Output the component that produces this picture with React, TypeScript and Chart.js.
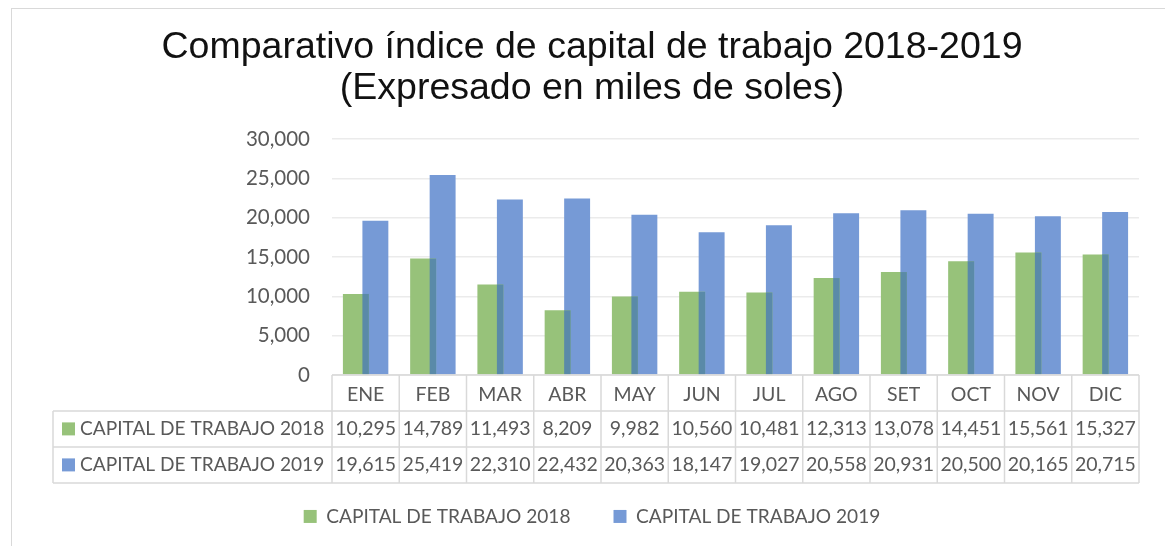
import React, { useEffect, useRef } from "react";
import { Chart, registerables } from "chart.js";

Chart.register(...registerables);

const months = ["ENE", "FEB", "MAR", "ABR", "MAY", "JUN", "JUL", "AGO", "SET", "OCT", "NOV", "DIC"];
const capital2018 = [10295, 14789, 11493, 8209, 9982, 10560, 10481, 12313, 13078, 14451, 15561, 15327];
const capital2019 = [19615, 25419, 22310, 22432, 20363, 18147, 19027, 20558, 20931, 20500, 20165, 20715];
const seriesNames = ["CAPITAL DE TRABAJO 2018", "CAPITAL DE TRABAJO 2019"];
const titleLines = ["Comparativo índice de capital de trabajo 2018-2019", "(Expresado en miles de soles)"];
const yMin = 0;
const yMax = 30000;
const yStep = 5000;

const GREEN = "#97c27a";
const BLUE = "#769ad6";
const OVERLAP = "#5a8aa8";
const TEXT = "#595959";
const LINE = "#d9d9d9";
const FONT = "Lato";

const fmt = (v: number) => v.toLocaleString("en-US");

const overlapPlugin = {
  id: "overlap",
  afterDatasetsDraw(chart: any) {
    const m0 = chart.getDatasetMeta(0);
    const m1 = chart.getDatasetMeta(1);
    const ctx = chart.ctx;
    ctx.save();
    ctx.fillStyle = OVERLAP;
    m0.data.forEach((b0: any, i: number) => {
      const b1 = m1.data[i];
      if (!b1) return;
      const l = Math.max(b0.x - b0.width / 2, b1.x - b1.width / 2);
      const r = Math.min(b0.x + b0.width / 2, b1.x + b1.width / 2);
      const t = Math.max(b0.y, b1.y);
      const base = Math.min(b0.base, b1.base);
      if (r > l && base > t) ctx.fillRect(l, t, r - l, base - t);
    });
    ctx.restore();
  },
};

const tablePlugin = {
  id: "dataTable",
  afterDraw(chart: any) {
    const ctx = chart.ctx;
    const area = chart.chartArea;
    const xs = chart.scales.x;
    const rowH = 36;
    const top = area.bottom;
    const labelLeft = 41;
    const n = months.length;
    const colW = area.width / n;
    ctx.save();
    ctx.strokeStyle = LINE;
    ctx.lineWidth = 1.5;
    ctx.beginPath();
    ctx.moveTo(area.left, top);
    ctx.lineTo(area.right, top);
    for (let r = 1; r <= 3; r++) {
      ctx.moveTo(labelLeft, top + r * rowH);
      ctx.lineTo(area.right, top + r * rowH);
    }
    for (let i = 0; i <= n; i++) {
      const x = area.left + i * colW;
      ctx.moveTo(x, top);
      ctx.lineTo(x, top + 3 * rowH);
    }
    ctx.moveTo(labelLeft, top + rowH);
    ctx.lineTo(labelLeft, top + 3 * rowH);
    ctx.stroke();

    const rows = [
      { name: seriesNames[0], color: GREEN, values: capital2018 },
      { name: seriesNames[1], color: BLUE, values: capital2019 },
    ];
    ctx.textBaseline = "middle";
    rows.forEach((row, r) => {
      const cy = top + rowH * (r + 1) + rowH / 2;
      ctx.fillStyle = row.color;
      ctx.fillRect(labelLeft + 9, cy - 6.5, 13, 13);
      ctx.fillStyle = TEXT;
      ctx.textAlign = "left";
      ctx.font = `19.1px ${FONT}`;
      ctx.fillText(row.name, labelLeft + 27, cy);
      ctx.textAlign = "center";
      ctx.font = `19.5px ${FONT}`;
      row.values.forEach((v, i) => {
        ctx.fillText(fmt(v), xs.getPixelForValue(i), cy);
      });
    });
    ctx.restore();
  },
};

export default function App() {
  const ref = useRef<HTMLCanvasElement>(null);

  useEffect(() => {
    if (!ref.current) return;
    const chart = new Chart(ref.current, {
      type: "bar",
      data: {
        labels: months,
        datasets: [
          {
            label: seriesNames[0],
            data: capital2018,
            backgroundColor: GREEN,
            categoryPercentage: 0.58,
            barPercentage: 1.33,
          },
          {
            label: seriesNames[1],
            data: capital2019,
            backgroundColor: BLUE,
            categoryPercentage: 0.58,
            barPercentage: 1.33,
          },
        ],
      },
      options: {
        animation: false,
        responsive: false,
        devicePixelRatio: 1,
        layout: { padding: { left: 33, right: 33, top: 0, bottom: 0 } },
        plugins: {
          title: {
            display: true,
            text: titleLines,
            color: "#111",
            font: { family: "Liberation Sans", size: 37.5, weight: "normal", lineHeight: 41 / 37.5 },
            padding: { top: 18, bottom: 30 },
          },
          legend: {
            display: true,
            position: "bottom",
            labels: {
              boxWidth: 13,
              boxHeight: 13,
              padding: 43,
              color: TEXT,
              font: { family: FONT, size: 19.1 },
            },
          },
          tooltip: { enabled: false },
        },
        scales: {
          x: {
            grid: { display: false, drawTicks: false },
            border: { display: false },
            ticks: { color: TEXT, font: { family: FONT, size: 19.5 }, padding: 8, maxRotation: 0 },
            afterFit(scale: any) {
              scale.height = 89;
            },
          },
          y: {
            min: yMin,
            max: yMax,
            grid: { color: "#ebebeb", lineWidth: 1.5, drawTicks: false },
            border: { display: false },
            ticks: {
              stepSize: yStep,
              color: TEXT,
              padding: 22,
              font: { family: FONT, size: 20.5 },
              callback: (v: any) => fmt(Number(v)),
            },
            afterFit(scale: any) {
              scale.width = 287;
            },
          },
        },
      },
      plugins: [overlapPlugin, tablePlugin],
    });
    return () => chart.destroy();
  }, []);

  return (
    <div style={{ position: "absolute", left: 0, top: 0, width: 1165, height: 546, overflow: "hidden", background: "#fff" }}>
      <div
        style={{
          position: "absolute",
          left: 11,
          top: 8,
          width: 1200,
          height: 600,
          borderLeft: "1.5px solid #d9d9d9",
          borderTop: "1.5px solid #d9d9d9",
        }}
      />
      <canvas ref={ref} width={1160} height={527} style={{ position: "absolute", left: 12, top: 9, width: 1160, height: 527 }} />
    </div>
  );
}
